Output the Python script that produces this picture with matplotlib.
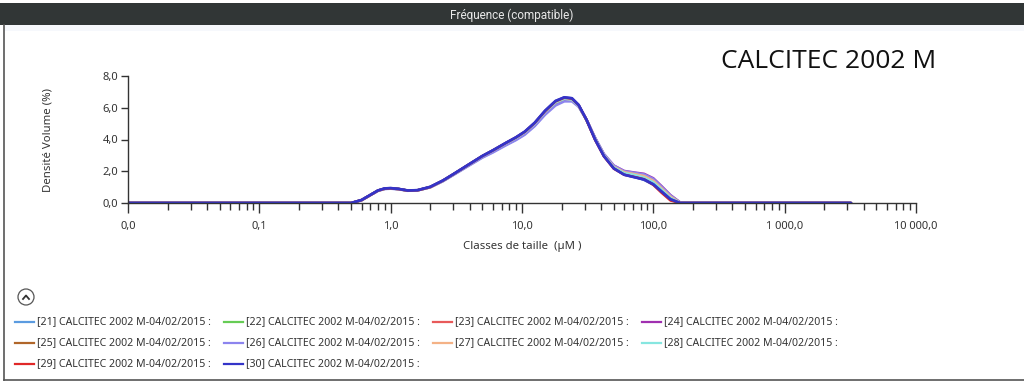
import matplotlib
matplotlib.use("Agg")
import matplotlib.pyplot as plt
from matplotlib.lines import Line2D
from matplotlib.patches import Rectangle, Ellipse
from matplotlib.ticker import FixedLocator, LogLocator, NullFormatter

plt.rcParams['font.family'] = ['Noto Sans', 'DejaVu Sans']

# particle size classes (µm)
sizes = [0.01, 0.50, 0.60, 0.70, 0.80, 0.90, 1.00, 1.15, 1.35, 1.60, 2.00, 2.50,
         3.00, 4.00, 5.00, 6.00, 7.50, 9.00, 10.5, 12.5, 15.0, 18.0, 21.0, 24.0,
         27.0, 31.0, 36.0, 42.0, 50.0, 60.0, 72.0, 85.0, 100.0, 115.0, 135.0,
         160.0, 175.0, 3200.0]

s21 = [0, 0, 0.18, 0.50, 0.77, 0.89, 0.91, 0.87, 0.77, 0.79, 0.99, 1.38,
       1.77, 2.40, 2.88, 3.22, 3.66, 4.00, 4.34, 4.88, 5.62, 6.22, 6.48, 6.46,
       6.10, 5.25, 4.10, 3.05, 2.22, 1.82, 1.66, 1.45, 1.15, 0.75, 0.25,
       0.00, 0, 0]
s22 = [0, 0, 0.18, 0.50, 0.78, 0.90, 0.92, 0.88, 0.78, 0.80, 1.00, 1.40,
       1.80, 2.45, 2.95, 3.30, 3.75, 4.10, 4.45, 5.00, 5.75, 6.35, 6.58, 6.52,
       6.12, 5.22, 4.04, 3.00, 2.26, 1.92, 1.80, 1.66, 1.36, 0.92, 0.38,
       0.00, 0, 0]
s23 = [0, 0, 0.18, 0.50, 0.78, 0.90, 0.92, 0.88, 0.78, 0.80, 1.00, 1.40,
       1.80, 2.45, 2.95, 3.30, 3.76, 4.12, 4.47, 5.02, 5.76, 6.36, 6.60, 6.54,
       6.14, 5.24, 4.02, 2.98, 2.20, 1.84, 1.72, 1.56, 1.22, 0.74, 0.20,
       0.00, 0, 0]
s24 = [0, 0, 0.18, 0.50, 0.78, 0.90, 0.92, 0.88, 0.78, 0.80, 1.00, 1.40,
       1.80, 2.44, 2.94, 3.28, 3.73, 4.08, 4.42, 4.97, 5.71, 6.30, 6.54, 6.50,
       6.12, 5.26, 4.10, 3.08, 2.36, 2.02, 1.92, 1.84, 1.56, 1.08, 0.50,
       0.04, 0, 0]
s25 = [0, 0, 0.18, 0.50, 0.78, 0.90, 0.92, 0.88, 0.78, 0.80, 1.00, 1.40,
       1.80, 2.45, 2.95, 3.30, 3.75, 4.10, 4.45, 5.00, 5.74, 6.33, 6.56, 6.51,
       6.12, 5.24, 4.06, 3.04, 2.30, 1.96, 1.86, 1.74, 1.46, 1.00, 0.44,
       0.02, 0, 0]
s26 = [0, 0, 0.17, 0.49, 0.76, 0.88, 0.90, 0.86, 0.77, 0.79, 0.98, 1.37,
       1.76, 2.38, 2.86, 3.18, 3.62, 3.96, 4.30, 4.84, 5.56, 6.14, 6.40, 6.40,
       6.06, 5.24, 4.12, 3.10, 2.36, 2.00, 1.90, 1.80, 1.52, 1.04, 0.48,
       0.03, 0, 0]
s27 = [0, 0, 0.18, 0.50, 0.78, 0.90, 0.92, 0.88, 0.78, 0.80, 1.00, 1.40,
       1.80, 2.45, 2.95, 3.30, 3.75, 4.10, 4.45, 5.00, 5.75, 6.34, 6.57, 6.52,
       6.13, 5.23, 4.05, 3.02, 2.28, 1.94, 1.82, 1.70, 1.40, 0.94, 0.40,
       0.01, 0, 0]
s28 = [0, 0, 0.18, 0.50, 0.78, 0.90, 0.92, 0.88, 0.78, 0.80, 1.00, 1.40,
       1.80, 2.45, 2.95, 3.30, 3.75, 4.10, 4.45, 5.00, 5.75, 6.34, 6.57, 6.52,
       6.12, 5.22, 4.04, 3.00, 2.24, 1.88, 1.76, 1.60, 1.30, 0.86, 0.32,
       0.00, 0, 0]
s29 = [0, 0, 0.18, 0.50, 0.78, 0.90, 0.92, 0.88, 0.78, 0.80, 1.00, 1.41,
       1.81, 2.46, 2.96, 3.31, 3.77, 4.13, 4.48, 5.04, 5.79, 6.40, 6.63, 6.57,
       6.16, 5.22, 3.98, 2.94, 2.16, 1.78, 1.64, 1.50, 1.14, 0.66, 0.16,
       0.00, 0, 0]
s30 = [0, 0, 0.19, 0.51, 0.79, 0.92, 0.94, 0.89, 0.79, 0.81, 1.02, 1.42,
       1.82, 2.47, 2.97, 3.32, 3.78, 4.14, 4.50, 5.06, 5.82, 6.43, 6.66, 6.60,
       6.18, 5.24, 4.00, 2.96, 2.18, 1.78, 1.62, 1.48, 1.18, 0.74, 0.24,
       0.00, 0, 0]

series_values = [s21, s22, s23, s24, s25, s26, s27, s28, s29, s30]
series_names = ["[21] CALCITEC 2002 M-04/02/2015 :",
                "[22] CALCITEC 2002 M-04/02/2015 :",
                "[23] CALCITEC 2002 M-04/02/2015 :",
                "[24] CALCITEC 2002 M-04/02/2015 :",
                "[25] CALCITEC 2002 M-04/02/2015 :",
                "[26] CALCITEC 2002 M-04/02/2015 :",
                "[27] CALCITEC 2002 M-04/02/2015 :",
                "[28] CALCITEC 2002 M-04/02/2015 :",
                "[29] CALCITEC 2002 M-04/02/2015 :",
                "[30] CALCITEC 2002 M-04/02/2015 :"]
series_colors = ["#5b9be0", "#66cc55", "#e85a5a", "#a030b0", "#b0662a",
                 "#8c84ee", "#f4b286", "#86e6e0", "#e02828", "#3434c8"]

xtick_vals = [0.01, 0.1, 1, 10, 100, 1000, 10000]
xtick_labels = ["0,0", "0,1", "1,0", "10,0", "100,0", "1 000,0", "10 000,0"]
ytick_vals = [0, 2, 4, 6, 8]
ytick_labels = ["0,0", "2,0", "4,0", "6,0", "8,0"]

W, H = 1024, 383
fig = plt.figure(figsize=(W / 100, H / 100), dpi=100)
fig.patch.set_facecolor("white")

def fx(px):
    return px / W

def fy(py):
    return 1 - py / H

# header bar
fig.add_artist(Rectangle((0, fy(25)), 1, fy(3) - fy(25), transform=fig.transFigure,
                         facecolor="#313636", edgecolor="none"))
fig.add_artist(Rectangle((fx(5), fy(31)), 1, fy(25) - fy(31), transform=fig.transFigure,
                         facecolor="#f6f8fc", edgecolor="none"))
fig.text(0.5, fy(15), "Fréquence (compatible)", color="#e8e8e8", fontsize=8.5,
         family="Roboto", ha="center", va="center")
# panel border
fig.add_artist(Line2D([fx(4), fx(4)], [fy(25), fy(380)], transform=fig.transFigure,
                      color="#555555", lw=1.2))
fig.add_artist(Line2D([fx(4), 1], [fy(380), fy(380)], transform=fig.transFigure,
                      color="#555555", lw=1.2))

ax = fig.add_axes([fx(128), fy(203), fx(916) - fx(128), fy(76) - fy(203)])
ax.set_facecolor("none")
for vals, name, col in zip(series_values, series_names, series_colors):
    ax.plot(sizes, vals, color=col, lw=1.8, label=name, solid_capstyle="round",
            solid_joinstyle="round")
# dark blue drawn on top again
ax.plot(sizes, s30, color=series_colors[-1], lw=1.9, alpha=0.8,
        solid_capstyle="round", solid_joinstyle="round")

ax.set_xscale("log")
ax.set_xlim(0.01, 10000)
ax.set_ylim(0, 8)
for sp in ["top", "right"]:
    ax.spines[sp].set_visible(False)
for sp in ["left", "bottom"]:
    ax.spines[sp].set_color("#333333")
    ax.spines[sp].set_linewidth(1.0)

ax.xaxis.set_major_locator(FixedLocator(xtick_vals))
ax.set_xticklabels(xtick_labels)
ax.xaxis.set_minor_locator(LogLocator(base=10, subs=[2, 3, 4, 5, 6, 7, 8, 9], numticks=20))
ax.xaxis.set_minor_formatter(NullFormatter())
ax.set_yticks(ytick_vals)
ax.set_yticklabels(ytick_labels)
ax.tick_params(axis="x", which="major", length=7, width=1, color="#333333",
               labelsize=8, labelcolor="#333333", pad=6)
ax.tick_params(axis="x", which="minor", length=5, width=1, color="#333333")
ax.tick_params(axis="y", which="major", length=5, width=1, color="#333333",
               labelsize=8, labelcolor="#333333", pad=2)

fig.text(fx(522), fy(247), "Classes de taille  (µM )", fontsize=8.2, color="#333333",
         ha="center", va="center")
fig.text(fx(48), fy(140), "Densité Volume (%)", fontsize=8.2, color="#333333",
         ha="center", va="center", rotation=90)

fig.text(fx(829), fy(62), "CALCITEC 2002 M", fontsize=19, color="#111111",
         family="Open Sans", ha="center", va="center")

# collapse button
fig.add_artist(Ellipse((fx(26), fy(297)), 16 / W, 16 / H, transform=fig.transFigure,
                       facecolor="white", edgecolor="#555555", lw=0.9))
fig.add_artist(Line2D([fx(23), fx(26), fx(29)], [fy(299), fy(295.5), fy(299)],
                      transform=fig.transFigure, color="#333333", lw=1.3))

# legend, row-major
col_x = [15, 224, 433, 642]
row_y = [322, 343, 364]
for i, (name, col) in enumerate(zip(series_names, series_colors)):
    r, c = divmod(i, 4)
    x0 = col_x[c]
    y0 = row_y[r]
    fig.add_artist(Line2D([fx(x0), fx(x0 + 19)], [fy(y0), fy(y0)],
                          transform=fig.transFigure, color=col, lw=1.6))
    fig.text(fx(x0 + 22), fy(y0), name, fontsize=7.6, color="#333333",
             ha="left", va="center")

fig.savefig("out.png", dpi=100)
